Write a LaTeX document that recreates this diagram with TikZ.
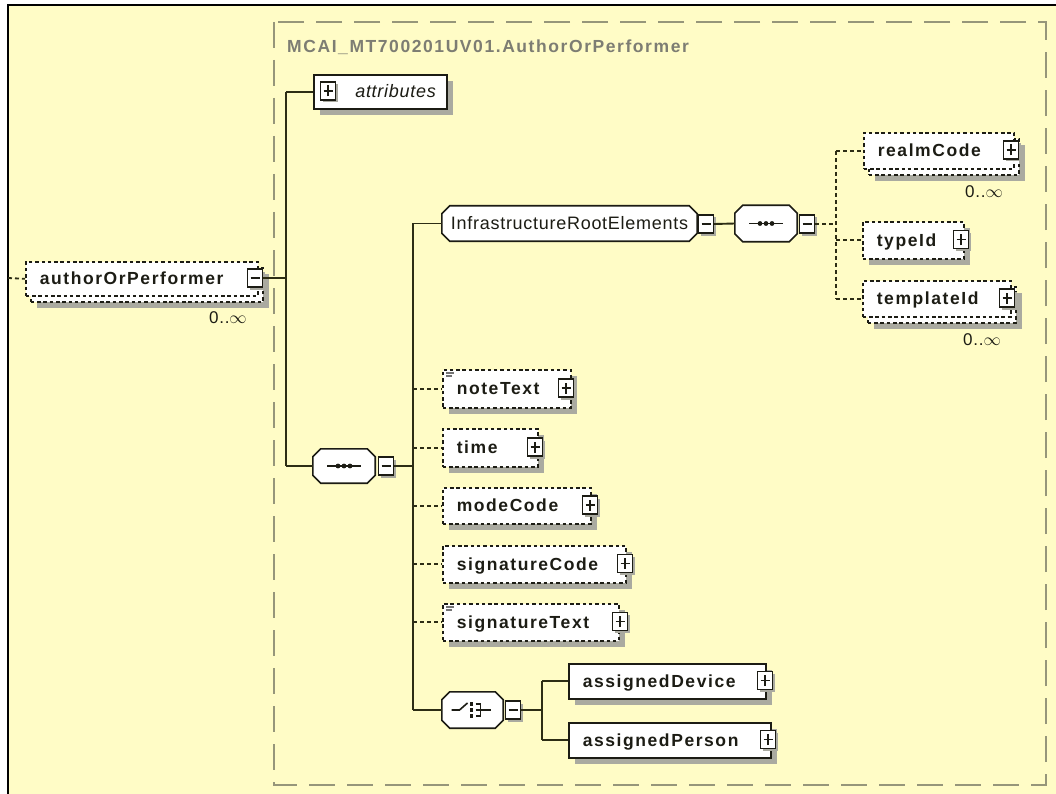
\documentclass[tikz,border=0pt]{standalone}
\usepackage{fontspec}
\usetikzlibrary{shadows}
\newfontfamily\lblfont[LetterSpace=9]{Liberation Sans}
\newfontfamily\plainfont[LetterSpace=4]{Liberation Sans}
\definecolor{paper}{RGB}{255,252,198}
\definecolor{ink}{RGB}{28,28,20}
\definecolor{wire}{RGB}{45,45,20}
\definecolor{shade}{RGB}{170,170,160}
\definecolor{frame}{RGB}{150,150,122}
\definecolor{grouptitle}{RGB}{125,125,115}
\pgfdeclarelayer{paperlayer}
\pgfdeclarelayer{shapelayer}
\pgfsetlayers{paperlayer,shapelayer,main}
\begin{document}
\begin{tikzpicture}[x=1pt,y=-1pt,
  lbl/.style={font=\lblfont\bfseries\fontsize{17.5}{20}\selectfont, text=ink},
  shadowed/.style={drop shadow={shadow xshift=6pt, shadow yshift=-6pt, fill=shade, opacity=1}},
  boxbase/.style={draw=ink, line width=1.6pt, fill=white, anchor=north west,
    inner ysep=0pt, inner xsep=14pt, text height=13pt, text depth=1pt, align=left},
  elem/.style={boxbase, shadowed, lbl},
  dashes/.style={dash pattern=on 3.5pt off 2.8pt},
  optelem/.style={elem, dashes},
  optback/.style={boxbase, shadowed, dashes},
  optfront/.style={boxbase, lbl, dashes},
  compositor/.style={rectangle, inner sep=0pt},
  octshadow/.style={fill=shade},
  octface/.style={fill=white, draw=ink, line width=1.6pt},
  pm/.style={draw=ink, line width=1.4pt, fill=white, minimum width=15pt, minimum height=18pt,
    inner sep=0pt, drop shadow={shadow xshift=2.5pt, shadow yshift=-2.5pt, fill=shade, opacity=1}},
  plus/.style={pm, path picture={\draw[line width=1.3pt, ink]
    ([xshift=-4.5pt]path picture bounding box.center) -- ([xshift=4.5pt]path picture bounding box.center)
    ([yshift=-5.5pt]path picture bounding box.center) -- ([yshift=5.5pt]path picture bounding box.center);}},
  minus/.style={pm, path picture={\draw[line width=1.3pt, ink]
    ([xshift=-4.5pt]path picture bounding box.center) -- ([xshift=4.5pt]path picture bounding box.center);}},
  mult/.style={font=\plainfont\fontsize{17}{20}\selectfont, text=ink, inner sep=0pt},
  conn/.style={draw=wire, line width=1.9pt},
  optconn/.style={draw=wire, line width=1.8pt, dash pattern=on 4pt off 3pt},
  mixedmark/.style={draw=black!55, line width=1.2pt}
]
\useasboundingbox (0,0) rectangle (1056,794);
\begin{pgfonlayer}{paperlayer}
% window area and its edge
\fill[white] (0,0) rectangle (1056,794);
\fill[paper] (8,5) rectangle (1056,794);
\draw[line width=2pt, black] (8,794) -- (8,5) -- (1056,5);
% complex type group frame
\draw[frame, line width=2pt, dash pattern=on 26pt off 12pt] (274,22) rectangle (1046,785);
\end{pgfonlayer}
\node[anchor=west, inner sep=0pt, text=grouptitle, font=\lblfont\bfseries\fontsize{17.5}{20}\selectfont]
  (grouptitle) at (287,47) {MCAI\_MT700201UV01.AuthorOrPerformer};

% root element (repeating, optional)
\node[optback, minimum width=232pt, minimum height=34pt] (aop-back) at (30,267) {};
\node[optfront, minimum height=34pt, text width=204pt] (aop) at (25,261) {authorOrPerformer};
\node[minus] (aop-pm) at (255,278) {};
\node[mult] (aop-mult) at (228,318) {0..$\infty$};

% attributes
\node[boxbase, shadowed, minimum height=34pt, inner xsep=11pt, text width=111pt, align=right,
  font=\plainfont\itshape\fontsize{18}{20}\selectfont, text=ink] (attr) at (313,74) {attributes};
\node[plus] (attr-pm) at (328,91) {};

% compositors and model group (outlines drawn below on the shape layer)
\node[compositor, minimum width=62pt, minimum height=34pt] (seq1) at (344,466) {};
\node[compositor, minimum width=255pt, minimum height=35pt,
  font=\plainfont\fontsize{18}{20}\selectfont, text=ink] (infra) at (569.5,223.5) {InfrastructureRootElements};
\node[compositor, minimum width=62pt, minimum height=36pt] (seq2) at (766,223.5) {};
\node[compositor, minimum width=61pt, minimum height=36pt] (choice) at (472.5,710) {};
\begin{pgfonlayer}{shapelayer}
\foreach \n in {seq1,infra,seq2,choice}{
  \foreach \dx/\dy/\sty in {6/6/octshadow, 0/0/octface}{
    \path[\sty, shift={(\dx,\dy)}]
      ([xshift=8pt]\n.north west) -- ([xshift=-8pt]\n.north east) -- ([yshift=-8pt]\n.north east)
      -- ([yshift=8pt]\n.south east) -- ([xshift=-8pt]\n.south east) -- ([xshift=8pt]\n.south west)
      -- ([yshift=8pt]\n.south west) -- ([yshift=-8pt]\n.north west) -- cycle;
  }
}
\end{pgfonlayer}
\node[minus] (seq1-pm) at (386,466) {};
\node[minus] (infra-pm) at (706,224) {};
\node[minus] (seq2-pm) at (807,224) {};
\node[minus] (choice-pm) at (513,710) {};

% children of the infrastructure sequence
\node[optback, minimum width=150pt, minimum height=36pt] (realm-back) at (868,138) {};
\node[optfront, minimum height=36pt, text width=122pt] (realm) at (863,132) {realmCode};
\node[plus] (realm-pm) at (1011,150) {};
\node[mult] (realm-mult) at (984,192) {0..$\infty$};

\node[optelem, minimum height=37pt, text width=73pt] (typeid) at (862,221) {typeId};
\node[plus] (typeid-pm) at (961,239.5) {};

\node[optback, minimum width=148pt, minimum height=36pt] (templ-back) at (867,286) {};
\node[optfront, minimum height=36pt, text width=120pt] (templ) at (862,280) {templateId};
\node[plus] (templ-pm) at (1007,298) {};
\node[mult] (templ-mult) at (982,340) {0..$\infty$};

% optional children of the main sequence
\node[optelem, minimum height=38pt, text width=100pt] (note) at (442,369) {noteText};
\node[plus] (note-pm) at (566,388) {};
\node[optelem, minimum height=38pt, text width=67pt] (time) at (442,428) {time};
\node[plus] (time-pm) at (535,447) {};
\node[optelem, minimum height=36pt, text width=120pt] (mode) at (442,487) {modeCode};
\node[plus] (mode-pm) at (590,505) {};
\node[optelem, minimum height=37pt, text width=155pt] (sigc) at (442,545) {signatureCode};
\node[plus] (sigc-pm) at (625,563.5) {};
\node[optelem, minimum height=37pt, text width=148pt] (sigt) at (442,603) {signatureText};
\node[plus] (sigt-pm) at (620,621.5) {};

% mixed content marks
\draw[mixedmark] ([shift={(4,4)}]note.north west) -- ++(8,0) ([shift={(4,7)}]note.north west) -- ++(6,0);
\draw[mixedmark] ([shift={(4,4)}]sigt.north west) -- ++(8,0) ([shift={(4,7)}]sigt.north west) -- ++(6,0);

% choice children
\node[elem, minimum height=35pt, text width=169pt] (dev) at (568,663) {assignedDevice};
\node[plus] (dev-pm) at (765,680.5) {};
\node[elem, minimum height=35pt, text width=174pt] (pers) at (568,722) {assignedPerson};
\node[plus] (pers-pm) at (768,739.5) {};

% compositor symbols
\foreach \s in {seq1,seq2}{
  \begin{scope}[shift={(\s.center)}]
    \draw[ink, line width=1.6pt] (-17,0) -- (17,0);
    \foreach \d in {-6,0,6} \fill[ink] (\d,0) circle (2.4pt);
  \end{scope}
}
\begin{scope}[shift={(choice.center)}]
  \draw[ink, line width=1.6pt] (-21,0) -- (-13,0) -- (-5,-7);
  \foreach \d in {-6,0,6} \fill[ink] (-2.5,\d-1.7) rectangle (0.9,\d+1.7);
  \draw[ink, line width=1.6pt] (3,-6) -- (8,-6) -- (8,6) -- (3,6) (3,0) -- (18,0);
\end{scope}

% connectors
\coordinate (jroot) at (286,278);
\coordinate (jseq) at (413,466);
\coordinate (jinf) at (836,224);
\coordinate (jcho) at (542,710);
\coordinate (lead) at (8,278);

\draw[optconn] (lead) -- (aop.west);
\draw[conn] (aop-pm.east) -- (jroot);
\draw[conn] (attr.west -| jroot) -- (seq1.west -| jroot);
\draw[conn] (attr.west -| jroot) -- (attr.west);
\draw[conn] (seq1.west -| jroot) -- (seq1.west);

\draw[conn] (seq1-pm.east) -- (jseq);
\draw[conn] (infra.west -| jseq) -- (choice.west -| jseq);
\draw[conn] (infra.west -| jseq) -- (infra.west);
\draw[conn] (choice.west -| jseq) -- (choice.west);
\foreach \n in {note,time,mode,sigc,sigt}
  \draw[optconn] (\n.west -| jseq) -- (\n.west);

\draw[conn] (infra-pm.east) -- (seq2.west);
\draw[optconn] (seq2-pm.east) -- (jinf);
\draw[optconn] (realm.west -| jinf) -- (templ.west -| jinf);
\foreach \n in {realm,typeid,templ}
  \draw[optconn] (\n.west -| jinf) -- (\n.west);

\draw[conn] (choice-pm.east) -- (jcho);
\draw[conn] (dev.west -| jcho) -- (pers.west -| jcho);
\draw[conn] (dev.west -| jcho) -- (dev.west);
\draw[conn] (pers.west -| jcho) -- (pers.west);
\end{tikzpicture}
\end{document}
